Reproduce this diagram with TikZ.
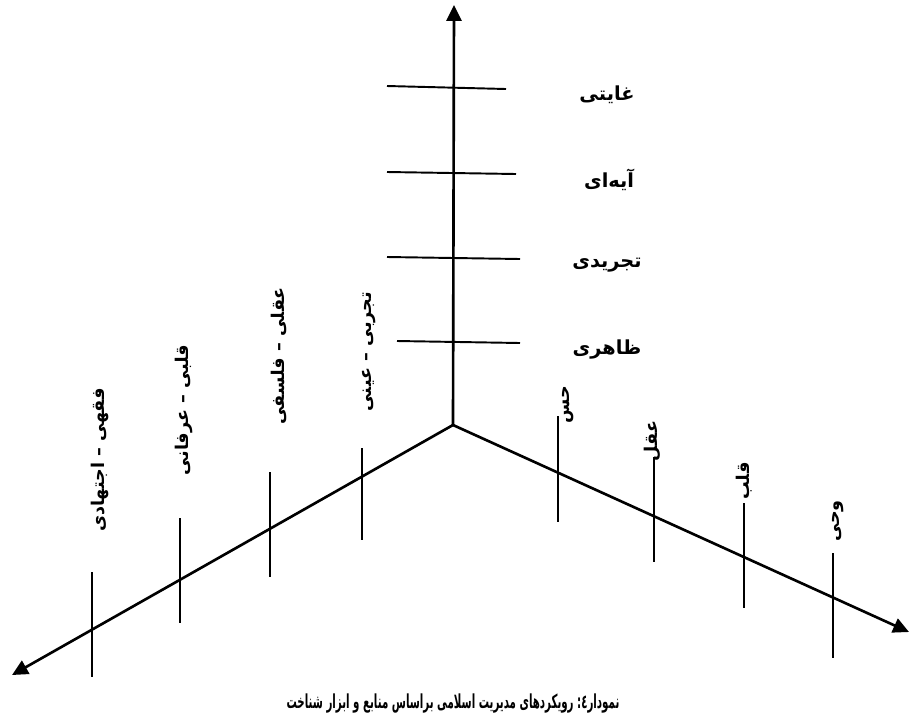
\documentclass[tikz,border=0pt]{standalone}
\usepackage{fontspec}
\usetikzlibrary{arrows.meta}
\TeXXeTstate=1
\newfontfamily\arabicfont[Script=Arabic]{DejaVu Sans}
\newcommand{\fa}[1]{\arabicfont\bfseries\beginR #1\endR}
\begin{document}
\begin{tikzpicture}[x=0.02cm,y=-0.02cm,
  axis/.style={line width=1.5pt,-{Triangle[length=9pt,width=8.5pt]}},
  tick/.style={line width=1.1pt},
  lbl/.style={font=\fontsize{11}{13}\selectfont,inner sep=0pt},
  vlbl/.style={lbl,font=\fontsize{10}{12}\selectfont,rotate=90}]
\useasboundingbox (0,0) rectangle (909,724);
\coordinate (o) at (453,425);
\coordinate (up) at (454,5);
\coordinate (lft) at (12,675);
\coordinate (rgt) at (909,632);
\draw[axis] (o) -- (up);
\draw[axis] (o) -- (lft);
\draw[axis] (o) -- (rgt);
% levels on the vertical axis
\draw[tick] (387,86) -- (506,89);
\draw[tick] (387,172) -- (516,174);
\draw[tick] (387,257) -- (520,259);
\draw[tick] (397,341) -- (520,343);
\node[lbl] (ghayati) at (607,95) {\fa{غایتی}};
\node[lbl] (ayei) at (609,180) {\fa{آیه‌ای}};
\node[lbl] (tajridi) at (607,265) {\fa{تجریدی}};
\node[lbl] (zaheri) at (607,350) {\fa{ظاهری}};
% approaches on the left axis
\draw[tick] (92,572) -- (92,677);
\draw[tick] (180,518) -- (180,623);
\draw[tick] (270,472) -- (270,577);
\draw[tick] (362,448) -- (362,540);
\node[vlbl] (feghhi) at (100,460) {\fa{فقهی – اجتهادی}};
\node[vlbl] (ghalbi) at (184,410) {\fa{قلبی – عرفانی}};
\node[vlbl] (aghli) at (279,356) {\fa{عقلی – فلسفی}};
\node[vlbl] (tajrobi) at (369,352) {\fa{تجربی – عینی}};
% sources on the right axis
\draw[tick] (558,416) -- (558,522);
\draw[tick] (654,457) -- (654,562);
\draw[tick] (744,503) -- (744,608);
\draw[tick] (833,553) -- (833,658);
\node[vlbl] (hes) at (568,405) {\fa{حس}};
\node[vlbl] (aghl) at (652,441) {\fa{عقل}};
\node[vlbl] (ghalb) at (744,481) {\fa{قلب}};
\node[vlbl] (vahy) at (838,521) {\fa{وحی}};
\node[lbl,font=\fontsize{11}{13}\selectfont,xscale=0.53] (caption) at (453,704)
  {\fa{نمودار٤:‏ رویکردهای مدیریت اسلامی براساس منابع و ابزار شناخت}};
\end{tikzpicture}
\end{document}
